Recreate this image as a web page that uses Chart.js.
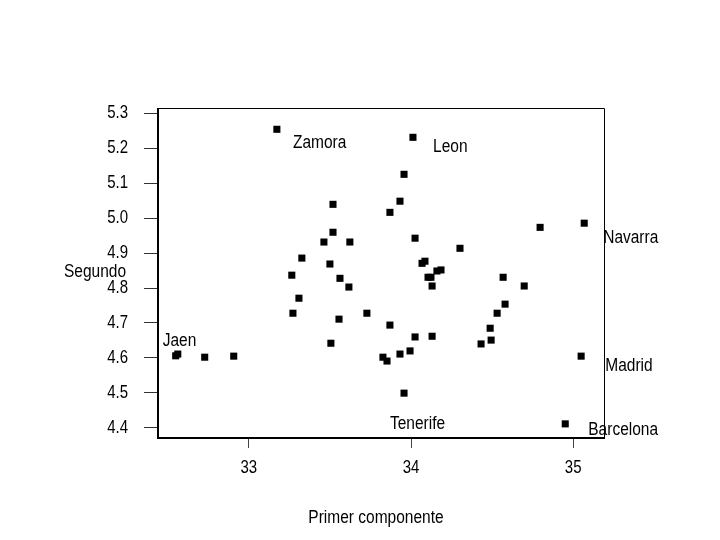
<!DOCTYPE html>
<html>
<head>
<meta charset="utf-8">
<script src="https://cdn.jsdelivr.net/npm/chart.js@4.4.1/dist/chart.umd.min.js"></script>
<style>
html,body{margin:0;padding:0;background:#fff;}
#wrap{width:720px;height:540px;}
</style>
</head>
<body>
<div id="wrap"><canvas id="c" width="720" height="540"></canvas></div>
<script>
// Data (Primer componente, Segundo componente)
const primer = [33.173,34.012,33.957,33.519,33.932,33.870,33.519,33.463,33.623,34.025,
  34.302,34.796,35.068,33.327,33.500,33.265,33.562,33.617,33.309,33.272,
  33.556,33.728,33.506,34.068,34.086,34.105,34.123,34.160,34.185,34.130,
  34.568,34.698,34.580,34.531,34.488,34.494,34.432,33.870,34.025,34.130,
  33.827,33.852,33.932,33.994,35.049,33.957,34.951,32.562,32.549,32.728,32.907];
const segundo = [5.255,5.232,5.126,5.040,5.049,5.017,4.960,4.932,4.932,4.943,
  4.914,4.974,4.986,4.886,4.869,4.837,4.828,4.803,4.771,4.728,
  4.711,4.728,4.642,4.871,4.877,4.831,4.831,4.849,4.852,4.806,
  4.831,4.806,4.754,4.728,4.685,4.651,4.640,4.694,4.660,4.662,
  4.602,4.591,4.611,4.620,4.605,4.499,4.411,4.611,4.606,4.602,4.605];
const xTicks = [33, 34, 35];
const yTicks = [4.4, 4.5, 4.6, 4.7, 4.8, 4.9, 5.0, 5.1, 5.2, 5.3];
const labelNames = ["Zamora","Leon","Navarra","Jaen","Madrid","Tenerife","Barcelona"];
const labelX = [33.272, 34.136, 35.185, 32.469, 35.198, 33.870, 35.093];
const labelY = [5.215, 5.203, 4.945, 4.649, 4.577, 4.411, 4.393];
const xTitle = "Primer componente";
const yTitle = "Segundo";

const FONT = "'Liberation Sans', Arial, sans-serif";
const points = primer.map((v, i) => ({x: v, y: segundo[i]}));

function drawText(ctx, text, x, y, align, size) {
  ctx.save();
  ctx.translate(x, y);
  ctx.scale(1, 1.18);
  ctx.font = size + "px " + FONT;
  ctx.textAlign = align;
  ctx.textBaseline = 'middle';
  ctx.fillText(text, 0, 0);
  ctx.restore();
}

const decor = {
  id: 'decor',
  afterDraw(chart) {
    const {ctx, chartArea: a, scales} = chart;
    ctx.save();
    // frame
    ctx.strokeStyle = '#000';
    ctx.lineWidth = 1;
    ctx.beginPath();
    ctx.moveTo(a.left, a.top + 0.5); ctx.lineTo(a.right + 0.5, a.top + 0.5);
    ctx.lineTo(a.right + 0.5, a.bottom);
    ctx.stroke();
    ctx.lineWidth = 2;
    ctx.beginPath();
    ctx.moveTo(a.left, a.top); ctx.lineTo(a.left, a.bottom); ctx.lineTo(a.right + 1, a.bottom);
    ctx.stroke();
    ctx.fillStyle = '#000';
    // tick labels
    yTicks.forEach(v => drawText(ctx, v.toFixed(1), 128, scales.y.getPixelForValue(v), 'right', 15));
    xTicks.forEach(v => drawText(ctx, String(v), scales.x.getPixelForValue(v), 468, 'center', 15));
    // point labels
    labelNames.forEach((n, i) => {
      drawText(ctx, n, scales.x.getPixelForValue(labelX[i]), scales.y.getPixelForValue(labelY[i]), 'left', 15.5);
    });
    // axis titles
    drawText(ctx, xTitle, 376, 518, 'center', 15.5);
    drawText(ctx, yTitle, a.left - 32, (a.top + a.bottom) / 2 - 1, 'right', 15.5);
    ctx.restore();
  }
};

new Chart(document.getElementById('c'), {
  type: 'scatter',
  data: {
    datasets: [{
      data: points,
      pointStyle: 'rect',
      pointRadius: 5,
      pointHoverRadius: 5,
      backgroundColor: '#000',
      borderColor: '#000',
      borderWidth: 0
    }]
  },
  options: {
    responsive: false,
    animation: false,
    events: [],
    layout: {padding: {top: 108, right: 116, left: 0, bottom: 0}},
    plugins: {legend: {display: false}, tooltip: {enabled: false}},
    scales: {
      x: {
        type: 'linear',
        min: 32.44, max: 35.19,
        afterFit(s) { s.height = 102; },
        afterBuildTicks(s) { s.ticks = xTicks.map(v => ({value: v})); },
        border: {display: false},
        grid: {drawOnChartArea: false, tickLength: 10, color: '#444', lineWidth: 1},
        ticks: {color: 'rgba(0,0,0,0)', font: {family: FONT, size: 14}, padding: 12,
          callback: v => String(v), maxRotation: 0}
      },
      y: {
        type: 'linear',
        min: 4.3705, max: 5.316,
        afterFit(s) { s.width = 158; },
        afterBuildTicks(s) { s.ticks = yTicks.map(v => ({value: v})); },
        border: {display: false},
        grid: {drawOnChartArea: false, tickLength: 14, color: '#333', lineWidth: 1},
        ticks: {color: 'rgba(0,0,0,0)', font: {family: FONT, size: 14}, padding: 16,
          callback: v => Number(v).toFixed(1)}
      }
    }
  },
  plugins: [decor]
});
</script>
</body>
</html>
